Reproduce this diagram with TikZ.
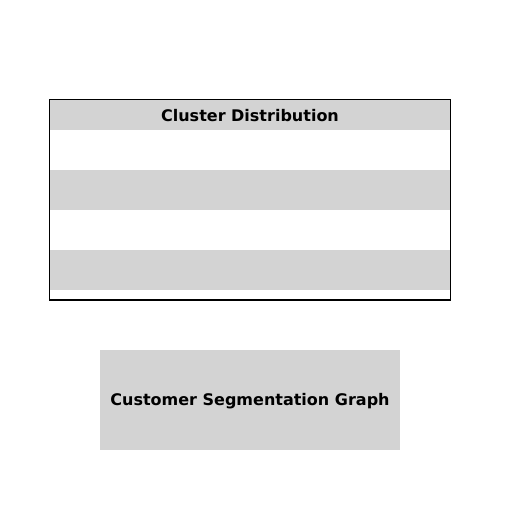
\documentclass[tikz,border=0pt]{standalone}
\usepackage{fontspec}
\setmainfont{DejaVu Sans}
\definecolor{rowgray}{RGB}{211,211,211}
\tikzset{
  lbl/.style={font=\bfseries\fontsize{16}{19}\selectfont, inner sep=0pt},
  band/.style={fill=rowgray, draw=none},
}
\begin{document}
\begin{tikzpicture}[x=1pt,y=-1pt]
\useasboundingbox (0,0) rectangle (512,512);
\fill[band] (50,100) rectangle (450,130);
\fill[band] (50,170) rectangle (450,210);
\fill[band] (50,250) rectangle (450,290);
\draw[line width=1pt] (50,99.5) -- (450,99.5);
\draw[line width=1pt] (49.5,99) -- (49.5,300);
\draw[line width=1.5pt] (450.25,99) -- (450.25,300.5);
\draw[line width=2pt] (49,299.5) -- (451,299.5);
\node[lbl] (title) at (250,116) {Cluster Distribution};
\node[band, minimum width=300pt, minimum height=100pt, inner sep=0pt] (graph) at (250,400) {};
\node[lbl] (graphlbl) at (250,401) {Customer Segmentation Graph};
\end{tikzpicture}
\end{document}
